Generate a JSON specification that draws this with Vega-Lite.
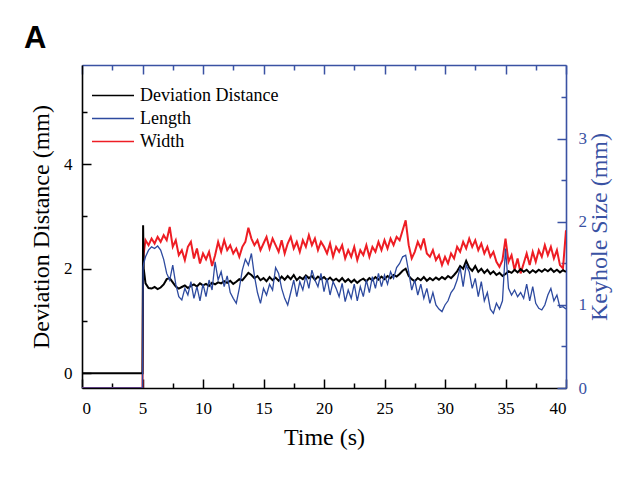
{
  "$schema": "https://vega.github.io/schema/vega-lite/v6.json",
  "width": 484,
  "height": 323,
  "autosize": "none",
  "padding": {"left": 82, "top": 65, "right": 70, "bottom": 94},
  "background": "white",
  "config": {
    "view": {"stroke": null},
    "font": "Liberation Serif",
    "axis": {"grid": false, "labelFont": "Liberation Serif", "titleFont": "Liberation Serif", "labelFontSize": 17, "titleFontSize": 24, "titleFontWeight": "normal", "domainWidth": 1.6, "tickWidth": 1.5, "labelOverlap": false, "labelColor": "black", "titleColor": "black", "domainColor": "black", "tickColor": "black"},
    "axisBottom": {"labelFont": "Liberation Serif", "labelFontSize": 17},
    "axisX": {"labelFont": "Liberation Serif", "labelFontSize": 17}
  },
  "title": {"text": "A", "font": "Liberation Sans", "fontWeight": "bold", "fontSize": 31, "anchor": "start", "frame": "group", "dx": -58, "offset": -15, "baseline": "alphabetic", "color": "black"},
  "data": {"values": [
    {"t":0,"dev":0,"len":0,"wid":0},
    {"t":5.0,"dev":0,"len":0,"wid":0},
    {"t":5.05,"dev":2.83,"len":1.45,"wid":1.50},
    {"t":5.1,"dev":2.0,"len":1.5,"wid":1.62},
    {"t":5.25,"dev":1.72,"len":1.58,"wid":1.78},
    {"t":5.5,"dev":1.63,"len":1.66,"wid":1.72},
    {"t":5.75,"dev":1.62,"len":1.70,"wid":1.80},
    {"t":6.0,"dev":1.65,"len":1.68,"wid":1.74},
    {"t":6.25,"dev":1.61,"len":1.71,"wid":1.82},
    {"t":6.5,"dev":1.64,"len":1.66,"wid":1.76},
    {"t":6.75,"dev":1.70,"len":1.55,"wid":1.84},
    {"t":7.0,"dev":1.80,"len":1.38,"wid":1.78},
    {"t":7.25,"dev":1.82,"len":1.30,"wid":1.94},
    {"t":7.5,"dev":1.74,"len":1.48,"wid":1.70},
    {"t":7.75,"dev":1.66,"len":1.25,"wid":1.78},
    {"t":8.0,"dev":1.62,"len":1.10,"wid":1.60},
    {"t":8.25,"dev":1.65,"len":1.06,"wid":1.66},
    {"t":8.5,"dev":1.68,"len":1.20,"wid":1.54},
    {"t":8.75,"dev":1.63,"len":1.12,"wid":1.70},
    {"t":9.0,"dev":1.67,"len":1.28,"wid":1.76},
    {"t":9.25,"dev":1.70,"len":1.08,"wid":1.56},
    {"t":9.5,"dev":1.66,"len":1.22,"wid":1.68},
    {"t":9.75,"dev":1.72,"len":1.05,"wid":1.50},
    {"t":10.0,"dev":1.68,"len":1.25,"wid":1.62},
    {"t":10.25,"dev":1.71,"len":1.10,"wid":1.55},
    {"t":10.5,"dev":1.67,"len":1.30,"wid":1.64},
    {"t":10.75,"dev":1.73,"len":1.18,"wid":1.47},
    {"t":11.0,"dev":1.70,"len":1.52,"wid":1.60},
    {"t":11.25,"dev":1.74,"len":1.30,"wid":1.76},
    {"t":11.5,"dev":1.72,"len":1.40,"wid":1.64},
    {"t":11.75,"dev":1.76,"len":1.22,"wid":1.78},
    {"t":12.0,"dev":1.73,"len":1.35,"wid":1.66},
    {"t":12.25,"dev":1.77,"len":1.15,"wid":1.72},
    {"t":12.5,"dev":1.71,"len":1.08,"wid":1.62},
    {"t":12.75,"dev":1.75,"len":1.02,"wid":1.68},
    {"t":13.0,"dev":1.80,"len":1.20,"wid":1.58},
    {"t":13.25,"dev":1.78,"len":1.42,"wid":1.70},
    {"t":13.5,"dev":1.85,"len":1.55,"wid":1.76},
    {"t":13.75,"dev":1.92,"len":1.48,"wid":1.93},
    {"t":14.0,"dev":1.88,"len":1.62,"wid":1.80},
    {"t":14.25,"dev":1.82,"len":1.35,"wid":1.72},
    {"t":14.5,"dev":1.86,"len":1.15,"wid":1.78},
    {"t":14.75,"dev":1.78,"len":1.02,"wid":1.66},
    {"t":15.0,"dev":1.82,"len":1.20,"wid":1.74},
    {"t":15.25,"dev":1.76,"len":1.12,"wid":1.82},
    {"t":15.5,"dev":1.84,"len":1.25,"wid":1.68},
    {"t":15.75,"dev":1.78,"len":1.18,"wid":1.80},
    {"t":16.0,"dev":1.83,"len":1.45,"wid":1.72},
    {"t":16.25,"dev":1.77,"len":1.38,"wid":1.64},
    {"t":16.5,"dev":1.85,"len":1.20,"wid":1.78},
    {"t":16.75,"dev":1.79,"len":1.08,"wid":1.62},
    {"t":17.0,"dev":1.86,"len":1.00,"wid":1.74},
    {"t":17.25,"dev":1.80,"len":1.15,"wid":1.82},
    {"t":17.5,"dev":1.88,"len":1.30,"wid":1.68},
    {"t":17.75,"dev":1.78,"len":1.10,"wid":1.76},
    {"t":18.0,"dev":1.84,"len":1.28,"wid":1.64},
    {"t":18.25,"dev":1.80,"len":1.18,"wid":1.78},
    {"t":18.5,"dev":1.87,"len":1.35,"wid":1.70},
    {"t":18.75,"dev":1.82,"len":1.20,"wid":1.84},
    {"t":19.0,"dev":1.86,"len":1.42,"wid":1.72},
    {"t":19.25,"dev":1.79,"len":1.30,"wid":1.80},
    {"t":19.5,"dev":1.85,"len":1.22,"wid":1.66},
    {"t":19.75,"dev":1.80,"len":1.38,"wid":1.76},
    {"t":20.0,"dev":1.84,"len":1.16,"wid":1.70},
    {"t":20.25,"dev":1.78,"len":1.32,"wid":1.62},
    {"t":20.5,"dev":1.83,"len":1.12,"wid":1.74},
    {"t":20.75,"dev":1.77,"len":1.28,"wid":1.58},
    {"t":21.0,"dev":1.81,"len":1.20,"wid":1.70},
    {"t":21.25,"dev":1.76,"len":1.10,"wid":1.64},
    {"t":21.5,"dev":1.82,"len":1.26,"wid":1.72},
    {"t":21.75,"dev":1.75,"len":1.04,"wid":1.56},
    {"t":22.0,"dev":1.80,"len":1.18,"wid":1.66},
    {"t":22.25,"dev":1.74,"len":1.08,"wid":1.58},
    {"t":22.5,"dev":1.79,"len":1.25,"wid":1.70},
    {"t":22.75,"dev":1.73,"len":1.05,"wid":1.54},
    {"t":23.0,"dev":1.78,"len":1.22,"wid":1.66},
    {"t":23.25,"dev":1.81,"len":1.10,"wid":1.60},
    {"t":23.5,"dev":1.76,"len":1.30,"wid":1.72},
    {"t":23.75,"dev":1.82,"len":1.15,"wid":1.58},
    {"t":24.0,"dev":1.78,"len":1.34,"wid":1.70},
    {"t":24.25,"dev":1.84,"len":1.20,"wid":1.64},
    {"t":24.5,"dev":1.79,"len":1.38,"wid":1.76},
    {"t":24.75,"dev":1.85,"len":1.22,"wid":1.66},
    {"t":25.0,"dev":1.80,"len":1.36,"wid":1.78},
    {"t":25.25,"dev":1.86,"len":1.25,"wid":1.68},
    {"t":25.5,"dev":1.82,"len":1.40,"wid":1.80},
    {"t":25.75,"dev":1.88,"len":1.32,"wid":1.72},
    {"t":26.0,"dev":1.85,"len":1.45,"wid":1.82},
    {"t":26.25,"dev":1.90,"len":1.50,"wid":1.78},
    {"t":26.5,"dev":1.96,"len":1.58,"wid":1.90},
    {"t":26.75,"dev":2.00,"len":1.60,"wid":2.02},
    {"t":27.0,"dev":1.86,"len":1.40,"wid":1.72},
    {"t":27.25,"dev":1.80,"len":1.18,"wid":1.56},
    {"t":27.5,"dev":1.76,"len":1.30,"wid":1.64},
    {"t":27.75,"dev":1.82,"len":1.12,"wid":1.76},
    {"t":28.0,"dev":1.78,"len":1.25,"wid":1.68},
    {"t":28.25,"dev":1.84,"len":1.08,"wid":1.80},
    {"t":28.5,"dev":1.77,"len":1.20,"wid":1.62},
    {"t":28.75,"dev":1.82,"len":1.02,"wid":1.58},
    {"t":29.0,"dev":1.78,"len":1.15,"wid":1.66},
    {"t":29.25,"dev":1.83,"len":1.00,"wid":1.54},
    {"t":29.5,"dev":1.79,"len":0.95,"wid":1.60},
    {"t":29.75,"dev":1.84,"len":0.92,"wid":1.48},
    {"t":30.0,"dev":1.80,"len":1.00,"wid":1.58},
    {"t":30.25,"dev":1.86,"len":1.05,"wid":1.50},
    {"t":30.5,"dev":1.82,"len":1.15,"wid":1.62},
    {"t":30.75,"dev":1.88,"len":1.20,"wid":1.56},
    {"t":31.0,"dev":1.95,"len":1.30,"wid":1.70},
    {"t":31.25,"dev":2.05,"len":1.45,"wid":1.64},
    {"t":31.5,"dev":2.00,"len":1.22,"wid":1.76},
    {"t":31.75,"dev":2.15,"len":1.48,"wid":1.68},
    {"t":32.0,"dev":2.02,"len":1.40,"wid":1.80},
    {"t":32.25,"dev":1.96,"len":1.20,"wid":1.70},
    {"t":32.5,"dev":2.05,"len":1.32,"wid":1.78},
    {"t":32.75,"dev":1.94,"len":1.10,"wid":1.66},
    {"t":33.0,"dev":2.00,"len":1.28,"wid":1.74},
    {"t":33.25,"dev":1.92,"len":1.05,"wid":1.62},
    {"t":33.5,"dev":1.98,"len":1.15,"wid":1.70},
    {"t":33.75,"dev":1.90,"len":0.95,"wid":1.58},
    {"t":34.0,"dev":1.95,"len":0.90,"wid":1.64},
    {"t":34.25,"dev":1.88,"len":1.02,"wid":1.52},
    {"t":34.5,"dev":1.92,"len":0.95,"wid":1.46},
    {"t":34.75,"dev":1.86,"len":1.05,"wid":1.54},
    {"t":35.0,"dev":1.90,"len":1.68,"wid":1.80},
    {"t":35.25,"dev":1.95,"len":1.20,"wid":1.52},
    {"t":35.5,"dev":1.92,"len":1.12,"wid":1.60},
    {"t":35.75,"dev":1.98,"len":1.18,"wid":1.42},
    {"t":36.0,"dev":1.93,"len":1.10,"wid":1.56},
    {"t":36.25,"dev":1.99,"len":1.15,"wid":1.38},
    {"t":36.5,"dev":1.94,"len":1.08,"wid":1.50},
    {"t":36.75,"dev":1.98,"len":1.25,"wid":1.62},
    {"t":37.0,"dev":1.92,"len":1.05,"wid":1.48},
    {"t":37.25,"dev":1.97,"len":1.22,"wid":1.64},
    {"t":37.5,"dev":1.93,"len":1.02,"wid":1.52},
    {"t":37.75,"dev":1.98,"len":0.96,"wid":1.66},
    {"t":38.0,"dev":1.94,"len":0.94,"wid":1.58},
    {"t":38.25,"dev":1.99,"len":1.00,"wid":1.72},
    {"t":38.5,"dev":1.95,"len":1.12,"wid":1.60},
    {"t":38.75,"dev":2.00,"len":1.20,"wid":1.70},
    {"t":39.0,"dev":1.94,"len":1.05,"wid":1.56},
    {"t":39.25,"dev":1.98,"len":1.12,"wid":1.66},
    {"t":39.5,"dev":1.93,"len":0.97,"wid":1.48},
    {"t":39.75,"dev":1.97,"len":0.98,"wid":1.44},
    {"t":40.0,"dev":1.94,"len":0.95,"wid":1.90}
  ]},
  "resolve": {"scale": {"y": "independent"}, "axis": {"x": "independent", "y": "independent"}},
  "layer": [
    {
      "mark": {"type": "line", "strokeWidth": 2, "clip": true},
      "encoding": {
        "x": {"field": "t", "type": "quantitative", "scale": {"domain": [0, 40], "nice": false, "zero": false}, "axis": null},
        "y": {"field": "wid", "type": "quantitative", "scale": {"domain": [0, 3.89], "nice": false, "zero": false}, "axis": null},
        "color": {"datum": "Width", "type": "nominal"}
      }
    },
    {
      "mark": {"type": "line", "strokeWidth": 2, "clip": true},
      "encoding": {
        "x": {"field": "t", "type": "quantitative", "scale": {"domain": [0, 40], "nice": false, "zero": false},
          "axis": {"orient": "bottom", "title": "Time (s)", "values": [0,2.5,5,7.5,10,12.5,15,17.5,20,22.5,25,27.5,30,32.5,35,37.5,40],
            "format": "d",
            "labelOpacity": {"condition": {"test": "datum.value % 5 === 0", "value": 1}, "value": 0},
            "labelFont": "Liberation Serif", "titleFont": "Liberation Serif", "labelFontSize": 17,
            "tickSize": {"condition": {"test": "datum.value % 5 === 0", "value": -9}, "value": -5},
            "labelPadding": 21, "titlePadding": 5,
            "encode": {"labels": {"update": {"font": {"value": "Liberation Serif"}, "fontSize": {"value": 17}}}}}},
        "y": {"field": "dev", "type": "quantitative", "scale": {"domain": [-0.281, 5.895], "nice": false, "zero": false},
          "axis": {"orient": "left", "title": "Deviation Distance (mm)", "values": [0,1,2,3,4,5],
            "labelExpr": "datum.value % 2 === 0 ? '' + datum.value : ''",
            "labelFont": "Liberation Serif", "titleFont": "Liberation Serif", "labelFontSize": 17,
            "tickSize": {"condition": {"test": "datum.value % 2 === 0", "value": -9}, "value": -5},
            "labelPadding": 19, "titlePadding": 10,
            "encode": {"labels": {"update": {"font": {"value": "Liberation Serif"}, "fontSize": {"value": 17}}}}}},
        "color": {"datum": "Deviation Distance", "type": "nominal",
          "scale": {"domain": ["Deviation Distance", "Length", "Width"], "range": ["#000000", "#2d4a9f", "#ee1d24"]},
          "legend": {"orient": "none", "legendX": 9, "legendY": 19, "title": null, "symbolType": "M-1,0H3", "symbolSize": 441, "symbolStrokeWidth": 1.5, "labelFont": "Liberation Serif", "labelFontSize": 18, "labelOffset": 26, "rowPadding": 2, "labelColor": "black"}}
      }
    },
    {
      "mark": {"type": "line", "strokeWidth": 1.3, "clip": true},
      "encoding": {
        "x": {"field": "t", "type": "quantitative", "scale": {"domain": [0, 40], "nice": false, "zero": false},
          "axis": {"orient": "top", "title": null, "labels": false, "values": [0,2.5,5,7.5,10,12.5,15,17.5,20,22.5,25,27.5,30,32.5,35,37.5,40],
            "tickSize": {"condition": {"test": "datum.value % 5 === 0", "value": -9}, "value": -5},
            "domainColor": "#3a52a3", "tickColor": "#3a52a3"}},
        "y": {"field": "len", "type": "quantitative", "scale": {"domain": [0, 3.89], "nice": false, "zero": false},
          "axis": {"orient": "right", "title": "Keyhole Size (mm)", "values": [0,0.5,1,1.5,2,2.5,3,3.5],
            "labelExpr": "datum.value % 1 === 0 ? '' + datum.value : ''",
            "labelFont": "Liberation Serif", "titleFont": "Liberation Serif", "labelFontSize": 17,
            "tickSize": {"condition": {"test": "datum.value % 1 === 0", "value": -9}, "value": -5},
            "labelPadding": 21, "titlePadding": 25, "titleAngle": 270,
            "domainColor": "#3a52a3", "tickColor": "#3a52a3", "labelColor": "#3a52a3", "titleColor": "#3a52a3",
            "encode": {"labels": {"update": {"font": {"value": "Liberation Serif"}, "fontSize": {"value": 17}}}}}},
        "color": {"datum": "Length", "type": "nominal"}
      }
    }
  ]
}
